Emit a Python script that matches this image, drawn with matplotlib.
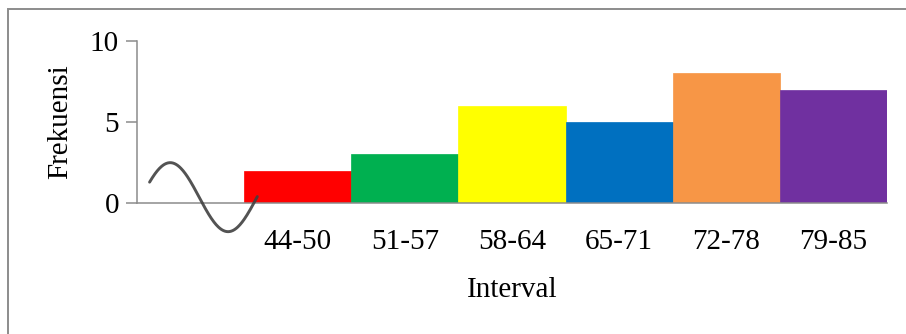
import numpy as np
import matplotlib
matplotlib.use('Agg')
import matplotlib.pyplot as plt
from matplotlib.patches import Rectangle


# ── data ──────────────────────────────────────────────────────────────────────
intervals = ['44-50', '51-57', '58-64', '65-71', '72-78', '79-85']
frekuensi = [2, 3, 6, 5, 8, 7]
colors    = ['#FF0000', '#00B050', '#FFFF00', '#0070C0', '#F79646', '#7030A0']
y_ticks   = [0, 5, 10]

plt.rcParams['font.family'] = ['Liberation Serif', 'DejaVu Serif']

W, H = 906, 334
fig = plt.figure(figsize=(W / 100, H / 100), dpi=100)
fig.patch.set_facecolor('white')

# axes placed in pixel terms: y-axis at x=137, bars end at x=887, y0=203, y10=41
ax = fig.add_axes([137 / W, (H - 203) / H, (887 - 137) / W, (203 - 41) / H])
ax.set_xlim(0, len(intervals) + 1)
ax.set_ylim(0, 10)

x = np.arange(1, len(intervals) + 1) + 0.5
ax.bar(x, frekuensi, width=1.0, color=colors, edgecolor=colors, lw=0.5, zorder=2)

# ── axis styling ──────────────────────────────────────────────────────────────
axis_col = '#8c8c8c'
for s in ('top', 'right'):
    ax.spines[s].set_visible(False)
for s in ('left', 'bottom'):
    ax.spines[s].set_color(axis_col)
    ax.spines[s].set_linewidth(1.1)
    ax.spines[s].set_zorder(3)

ax.set_yticks(y_ticks)
ax.tick_params(axis='y', length=8, width=1.1, color=axis_col, pad=5,
               labelsize=21, labelcolor='black')
ax.set_xticks(x)
ax.set_xticklabels(intervals)
ax.tick_params(axis='x', length=0, pad=18.5, labelsize=21, labelcolor='black')

# ── axis-break squiggle near origin ───────────────────────────────────────────
t  = np.linspace(0.45, 6.3, 200)
sx = 0.31 + (t - np.pi / 2) / np.pi * 0.54
sy = 0.36 + 2.13 * np.sin(t)
ax.plot(sx, sy, color='#404040', lw=2.1, alpha=0.9, clip_on=False,
        solid_capstyle='round', zorder=4)

# ── labels ────────────────────────────────────────────────────────────────────
fig.text(512 / W, (H - 297) / H, 'Interval', fontsize=21, ha='center', va='baseline')
fig.text(60 / W, (H - 122) / H, 'Frekuensi', fontsize=21, rotation=90,
         ha='center', va='center')

# ── outer frame (top and left edges visible) ─────────────────────────────────
fig.patches.append(Rectangle((8 / W, -0.2), 2, (H - 9) / H + 0.2,
                             transform=fig.transFigure, fill=False,
                             edgecolor='#8c8c8c', lw=1.4))

fig.savefig('out.png', dpi=100)
